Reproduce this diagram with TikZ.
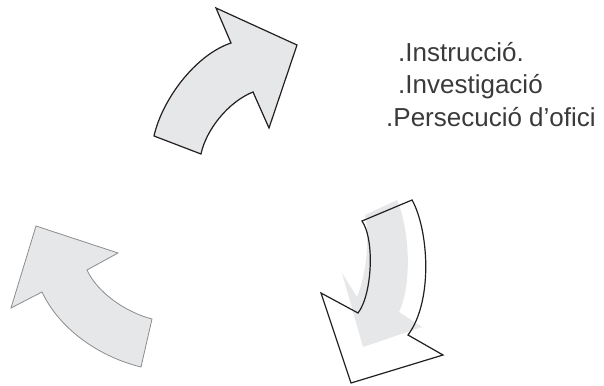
\documentclass[tikz,border=0pt]{standalone}
\usepackage{fontspec}
\setmainfont{Liberation Sans}
\definecolor{arrowfill}{HTML}{E6E7E8}
\definecolor{arrowedge}{HTML}{231F20}
\definecolor{textgray}{HTML}{3A3A3A}

\begin{document}
\begin{tikzpicture}[
                x=1pt, y=-1pt,
                label/.style={anchor=base west, text=textgray, font=\fontsize{26}{30}\selectfont, inner sep=0pt} ]

            \useasboundingbox (0,0) rectangle (604,385);

            % upper arrow
            \filldraw[
                draw=arrowedge,
                fill=arrowfill,
                line width=1.2pt,
                line join=miter
            ]
            (154,136) -- (201,154) .. controls (206,130) and (228,102) .. (253,92)
            -- (269,128) -- (297,45) -- (216,8) -- (231,43)
            .. controls (195,55) and (162,100) .. (154,136) -- cycle;

            % right arrow, shadow then outline
            \fill[arrowfill]
            (365,215) -- (397,200) .. controls (410,230) and (412,285) .. (399,312)
            -- (422,327) -- (363,347) -- (342,273) -- (357,297)
            .. controls (366,275) and (370,240) .. (365,215) -- cycle;
            \draw[
                draw=arrowedge,
                line width=1.2pt,
                line join=miter
            ]
            (362,221) -- (412,200) .. controls (428,228) and (434,300) .. (408,335)
            -- (443,355) -- (351,383) -- (321,293) -- (358,313)
            .. controls (372,295) and (375,240) .. (362,221) -- cycle;

            % left arrow
            \filldraw[
                draw=gray!90,
                fill=arrowfill,
                line width=0.8pt,
                line join=miter
            ]
            (36,226) -- (118,253) -- (87,270) .. controls (97,292) and (125,312) .. (152,319)
            -- (141,367) .. controls (100,357) and (60,330) .. (42,292)
            -- (11,308) -- cycle;

            \node[label] (instr) at (398,62) {.Instrucció.};
            \node[label] (invest) at (398,94) {.Investigació};
            \node[label] (persec) at (386,126) {.Persecució d’ofici};

        \end{tikzpicture}
\end{document}
